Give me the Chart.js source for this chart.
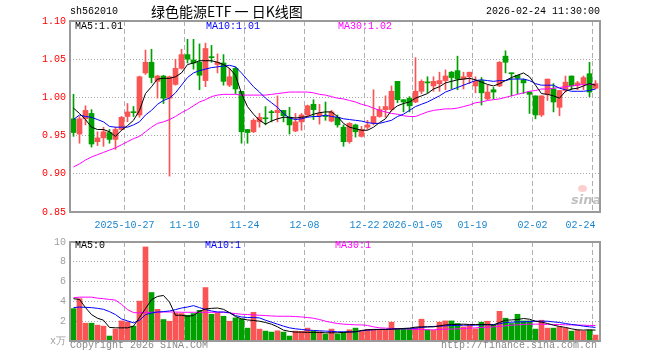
<!DOCTYPE html>
<html><head><meta charset="utf-8">
<script src="https://cdn.jsdelivr.net/npm/chart.js@4/dist/chart.umd.min.js"></script>
<style>
html,body{margin:0;padding:0;background:#fff;}
#wrap{position:relative;width:660px;height:360px;overflow:hidden;background:#fff;font-family:"Liberation Mono","DejaVu Sans Mono",monospace;font-size:10px;}
#wrap canvas{position:absolute;left:0;}
.t{position:absolute;white-space:pre;line-height:12px;}
</style></head><body>
<div id="wrap">
<canvas id="kc" width="660" height="232" style="top:0px"></canvas>
<canvas id="vc" width="660" height="128" style="top:232px"></canvas>
<div class="t" style="left:70px;top:6px;color:#000">sh562010</div>
<div class="t" style="left:151px;top:3px;font-family:'Noto Sans CJK SC',sans-serif;font-size:14px;line-height:17px;color:#000">绿色能源ETF 一 日K线图</div>
<div class="t" style="right:60px;top:6px;color:#000">2026-02-24 11:30:00</div>
<div class="t" style="left:75px;top:21px;color:#000">MA5:1.01</div>
<div class="t" style="left:206px;top:21px;color:#0000ff">MA10:1.01</div>
<div class="t" style="left:338px;top:21px;color:#ff00ff">MA30:1.02</div>
<div class="t" style="left:75px;top:240px;color:#000">MA5:0</div>
<div class="t" style="left:205px;top:240px;color:#0000ff">MA10:1</div>
<div class="t" style="left:335px;top:240px;color:#ff00ff">MA30:1</div>
<div class="t" style="left:70px;top:340px;color:#888">Copyright 2026 SINA.COM</div>
<div class="t" style="right:63px;top:340px;color:#888">http://finance.sina.com.cn</div>
<div class="t" style="left:571px;top:193px;font-family:'DejaVu Sans',sans-serif;font-style:italic;font-weight:bold;font-size:13px;line-height:14px;color:rgba(150,150,150,0.6)">sina</div>
<div style="position:absolute;left:578px;top:185px;width:9px;height:7px;border-radius:50%;background:rgba(250,120,120,0.35)"></div>
</div>
<script>
// ---- data ----
const OPEN = [
.972,.952,.972,.979,.942,.947,.954,.945,.958,.975,
.981,.977,1.032,1.046,1.021,1.028,.999,1.017,1.038,1.056,
1.049,1.046,1.022,1.053,1.043,1.045,1.016,1.038,1.008,.958,
.955,.968,.973,.981,.980,.983,.974,.956,.968,.977,
.991,.976,.976,.969,.974,.961,.942,.964,.949,.961,
.966,.975,.984,.984,1.021,.997,.999,.994,1.008,1.020,
1.015,1.018,1.022,1.033,1.035,1.024,1.027,1.015,1.022,.998,
1.010,1.015,1.054,1.032,1.029,1.023,1.007,1.002,.977,1.004,
1.011,.987,1.009,1.028,1.016,1.018,1.031,1.012];
const HIGH = [
1.004,.975,.989,.984,.955,.961,.958,.961,.975,.992,
.988,1.028,1.062,1.063,1.029,1.029,1.028,1.050,1.063,1.076,
1.076,1.070,1.071,1.068,1.057,1.056,1.038,1.040,1.008,.958,
.972,.979,.988,.983,1.002,.983,.987,.979,.979,.990,
.997,.991,.994,.983,.977,.964,.967,.965,.962,.970,
1.010,.988,1.002,1.015,1.021,.997,1.001,1.052,1.023,1.027,
1.027,1.033,1.036,1.034,1.054,1.033,1.033,1.027,1.026,1.016,
1.013,1.047,1.061,1.032,1.029,1.024,1.007,1.002,1.002,1.024,
1.018,1.009,1.028,1.028,1.021,1.028,1.046,1.022];
const LOW = [
.949,.940,.964,.935,.937,.936,.940,.932,.957,.968,
.975,.974,1.030,1.019,.999,.992,.897,1.016,1.037,1.045,
1.037,1.010,1.014,1.046,1.032,1.016,1.014,1.005,.940,.940,
.954,.961,.964,.968,.968,.968,.952,.955,.957,.975,
.971,.965,.970,.968,.961,.936,.940,.948,.948,.958,
.964,.974,.974,.982,.993,.981,.981,.993,1.005,1.006,
1.008,1.008,1.010,1.011,1.010,1.011,1.018,1.006,.990,.997,
.998,1.014,1.032,1.002,1.005,1.005,.979,.972,.975,.996,
.981,.976,1.007,1.010,1.010,1.010,1.001,1.011];
const CLOSE = [
.954,.972,.983,.939,.947,.955,.945,.958,.974,.981,
.980,1.027,1.046,1.026,1.028,.999,1.027,1.038,1.056,1.050,
1.045,1.029,1.064,1.052,1.046,1.021,1.027,1.011,.955,.954,
.970,.974,.972,.980,.983,.976,.964,.968,.977,.989,
.984,.979,.975,.981,.964,.942,.966,.955,.958,.964,
.975,.984,.988,1.008,.997,.994,.989,1.008,1.021,1.019,
1.021,1.022,1.028,1.026,1.024,1.027,1.033,1.021,1.006,1.007,
1.007,1.046,1.046,1.031,1.025,1.019,1.004,.977,1.002,1.024,
.994,1.009,1.020,1.015,1.019,1.026,1.007,1.018];
const MA5 = [
.986,.979,.971,.961,.958,.958,.955,.949,.957,.963,
.970,.983,1.005,1.014,1.024,1.025,1.025,1.027,1.032,1.043,
1.045,1.048,1.048,1.048,1.046,1.043,1.038,1.029,1.005,.988,
.978,.970,.965,.969,.972,.974,.974,.973,.974,.975,
.978,.980,.981,.981,.975,.966,.961,.959,.957,.957,
.961,.967,.972,.983,.989,.992,.994,.999,1.002,1.005,
1.011,1.014,1.019,1.021,1.023,1.024,1.025,1.023,1.020,1.017,
1.015,1.018,1.022,1.026,1.029,1.032,1.027,1.016,1.005,1.004,
1.002,.999,1.008,1.011,1.012,1.015,1.018,1.016];
const MA10 = [
.971,.977,.975,.974,.971,.968,.962,.961,.961,.961,
.964,.968,.977,.983,.991,.996,.999,1.006,1.016,1.026,
1.032,1.035,1.037,1.039,1.040,1.041,1.042,1.040,1.032,1.023,
1.014,1.007,.999,.993,.987,.979,.973,.971,.972,.974,
.975,.975,.977,.975,.974,.972,.971,.970,.969,.967,
.966,.966,.968,.970,.975,.978,.983,.988,.991,.994,
.998,1.002,1.007,1.010,1.013,1.016,1.019,1.022,1.023,1.022,
1.021,1.022,1.022,1.024,1.024,1.024,1.022,1.018,1.016,1.016,
1.016,1.012,1.010,1.008,1.008,1.008,1.009,1.011];
const MA30 = [
.909,.913,.918,.922,.925,.928,.931,.934,.938,.942,
.946,.949,.955,.961,.966,.968,.971,.975,.980,.984,
.989,.994,.997,1.001,1.003,1.004,1.004,1.004,1.003,1.003,
1.003,1.003,1.003,1.004,1.005,1.006,1.007,1.007,1.007,1.007,
1.006,1.004,1.003,1.001,.999,.998,.996,.994,.991,.989,
.986,.983,.981,.979,.978,.976,.975,.975,.978,.981,
.983,.984,.985,.985,.986,.988,.990,.993,.994,.996,
.997,.998,1.000,1.002,1.004,1.006,1.008,1.009,1.011,1.011,
1.012,1.013,1.014,1.015,1.016,1.017,1.017,1.017];
const VOLUME = [
3.27,4.27,1.8,1.8,1.6,1.5,0.5,1.2,2.03,1.93,
1.5,4.03,9.5,4.9,3.2,2.17,2.0,2.83,2.77,2.6,
2.77,3.1,5.4,2.7,2.83,2.5,2.0,2.33,2.23,1.3,
2.9,1.2,1.0,0.9,1.03,0.9,0.5,1.0,0.97,1.3,
1.0,0.93,0.7,1.2,0.7,0.87,1.13,1.3,0.97,1.17,
1.1,1.17,1.1,1.9,1.2,1.2,1.2,1.33,2.2,1.13,
1.07,1.9,2.03,2.03,1.77,1.43,1.6,1.23,1.9,2.0,
1.63,3.0,2.3,1.77,2.7,2.03,2.03,1.2,2.1,1.3,
1.3,1.43,1.3,1.0,1.1,1.0,1.1,0.6];
const VOL_MA5 = [
4.27,4.2,3.37,2.67,2.3,2.1,1.37,1.33,1.33,1.33,
1.5,2.37,3.27,4.17,4.5,4.6,3.93,2.6,2.6,2.5,
2.57,3.0,3.23,3.3,3.33,3.2,2.87,2.47,2.23,2.13,
2.07,2.0,1.87,1.7,1.43,1.1,0.97,0.9,0.9,0.87,
0.87,0.87,0.83,0.83,0.83,0.87,0.9,0.93,1.07,1.13,
1.17,1.17,1.17,1.2,1.23,1.27,1.3,1.4,1.43,1.43,
1.43,1.53,1.63,1.67,1.67,1.7,1.67,1.67,1.67,1.67,
1.6,1.87,2.1,2.13,2.17,2.27,2.2,2.0,1.9,1.77,
1.6,1.47,1.37,1.23,1.13,1.1,1.13,1.1];
const VOL_MA10 = [
3.37,3.43,3.4,3.37,3.3,3.2,2.97,2.67,2.23,2.03,
1.83,2.1,2.67,2.83,2.93,2.97,3.03,3.17,3.33,3.43,
3.57,3.37,3.17,3.03,2.93,2.93,2.87,2.57,2.43,2.37,
2.37,2.33,2.1,1.9,1.7,1.5,1.33,1.23,1.17,1.1,
1.07,1.03,1.0,0.97,0.93,0.93,0.93,0.93,1.03,1.1,
1.13,1.17,1.17,1.2,1.23,1.23,1.27,1.3,1.37,1.43,
1.47,1.5,1.53,1.57,1.57,1.6,1.6,1.6,1.63,1.63,
1.67,1.73,1.87,1.9,1.93,1.93,1.97,2.0,2.0,2.0,
1.93,1.87,1.77,1.67,1.6,1.5,1.43,1.37];
const VOL_MA30 = [
4.37,4.43,4.43,4.43,4.33,4.27,4.2,4.13,3.7,3.17,
2.87,2.83,2.9,2.9,2.9,2.93,2.93,2.93,2.9,2.9,
2.9,2.9,2.9,2.9,2.9,2.9,2.83,2.77,2.7,2.67,
2.63,2.6,2.57,2.53,2.5,2.5,2.5,2.47,2.43,2.37,
2.3,2.17,2.0,1.87,1.77,1.7,1.67,1.63,1.63,1.57,
1.43,1.33,1.3,1.27,1.23,1.23,1.2,1.17,1.17,1.13,
1.13,1.17,1.2,1.2,1.23,1.27,1.3,1.33,1.37,1.4,
1.43,1.47,1.53,1.6,1.63,1.67,1.7,1.7,1.7,1.67,
1.67,1.67,1.63,1.63,1.6,1.6,1.57,1.57];
// date ticks: index of first trading day of each labelled date (grid at slot's left edge)
const DATE_TICK_INDEX = [9, 19, 29, 39, 49, 57, 67, 77, 87];
const DATE_TICK_LABELS = ['2025-10-27','11-10','11-24','12-08','12-22','2026-01-05','01-19','02-02','02-24    '];
const PRICE_TICKS = [0.85, 0.90, 0.95, 1.00, 1.05, 1.10];
const VOLUME_TICKS = [0, 2, 4, 6, 8, 10];

// ---- styling ----
const RED = '#fa5454', GREEN = '#00a000';
const MONO = {family: "'Liberation Mono','DejaVu Sans Mono',monospace", size: 10};
Chart.defaults.font.family = MONO.family;
Chart.defaults.font.size = 10;
const X_MIN = -0.5833, X_MAX = X_MIN + 530 / 6;
const candleColors = OPEN.map((o, i) => CLOSE[i] >= o ? RED : GREEN);

const boxPlugin = {
  id: 'box',
  afterDraw(c) {
    const a = c.chartArea, ctx = c.ctx;
    ctx.save();
    ctx.strokeStyle = '#9a9a9a';
    ctx.lineWidth = 2;
    ctx.strokeRect(a.left, a.top, a.right - a.left, a.bottom - a.top);
    ctx.restore();
  }
};

function xAxis(showLabels, h) {
  return {
    type: 'linear', min: X_MIN, max: X_MAX, offset: false,
    afterBuildTicks: s => { s.ticks = DATE_TICK_INDEX.map(i => ({value: i - 0.5})); },
    afterFit: s => { s.height = h; },
    grid: {color: '#b0b0b0', lineWidth: 1, drawTicks: false, offset: false},
    border: {display: false, dash: [5, 3]},
    ticks: {display: showLabels, autoSkip: false, maxRotation: 0, minRotation: 0, padding: 7,
      color: '#1a86d0', font: MONO, callback: (v, i) => DATE_TICK_LABELS[i]}
  };
}
function yAxis(min, max, tickList, color, cb) {
  return {
    min: min, max: max,
    afterBuildTicks: s => { s.ticks = tickList.map(v => ({value: v})); },
    afterFit: s => { s.width = 70; },
    grid: {color: '#a8a8a8', lineWidth: 1, drawTicks: false},
    border: {display: false, dash: [1, 2]},
    ticks: {color: color, padding: 4, font: MONO, callback: cb}
  };
}
function line(arr, color) {
  return {type: 'line', data: arr.map((v, i) => ({x: i, y: v})), borderColor: color,
    borderWidth: 1, pointRadius: 0, tension: 0, order: 0};
}
const common = {
  responsive: false, animation: false, devicePixelRatio: 1,
  plugins: {legend: {display: false}, tooltip: {enabled: false}, title: {display: false}},
  events: []
};

new Chart(document.getElementById('kc'), {
  type: 'bar',
  data: {datasets: [
    line(MA5, '#000000'), line(MA10, '#0000ff'), line(MA30, '#ff00ff'),
    {type: 'bar', data: OPEN.map((o, i) => ({x: i, y: [o, CLOSE[i]]})), backgroundColor: candleColors,
      barThickness: 5, grouped: false, minBarLength: 1, borderWidth: 0, order: 2},
    {type: 'bar', data: LOW.map((l, i) => ({x: i, y: [l, HIGH[i]]})), backgroundColor: candleColors,
      barThickness: 1, grouped: false, borderWidth: 0, order: 3}
  ]},
  options: Object.assign({}, common, {
    layout: {padding: {left: 0, right: 60, top: 21, bottom: 0}},
    scales: {
      x: xAxis(true, 20),
      y: yAxis(0.85, 1.10, PRICE_TICKS, '#ff0000', v => Number(v).toFixed(2))
    }
  }),
  plugins: [boxPlugin]
});

new Chart(document.getElementById('vc'), {
  type: 'bar',
  data: {datasets: [
    line(VOL_MA5, '#000000'), line(VOL_MA10, '#0000ff'), line(VOL_MA30, '#ff00ff'),
    {type: 'bar', data: VOLUME.map((v, i) => ({x: i, y: v})), backgroundColor: candleColors,
      barThickness: 5, grouped: false, borderWidth: 0, order: 2}
  ]},
  options: Object.assign({}, common, {
    layout: {padding: {left: 0, right: 60, top: 9, bottom: 0}},
    scales: {
      x: xAxis(false, 19),
      y: yAxis(0, 10, VOLUME_TICKS, '#a0a0a0', v => v === 0 ? 'x万' : String(v))
    }
  }),
  plugins: [boxPlugin]
});
</script>
</body></html>
